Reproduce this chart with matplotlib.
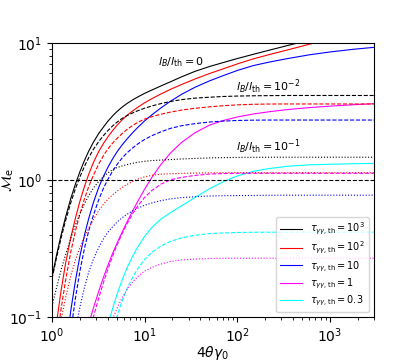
import numpy as np
import matplotlib
matplotlib.use('Agg')
import matplotlib.pyplot as plt

x = [1, 1.12, 1.25, 1.4, 1.6, 1.8, 2, 2.25, 2.5, 2.8, 3.2, 3.6, 4, 4.5, 5, 5.7, 6.5, 7.5, 8.5,
     10, 12, 15, 19, 25, 35, 50, 70, 100, 150, 220, 350, 600, 1000, 1800, 3000]

# l_B/l_th = 0 (solid)
k0 = [0.196, 0.283, 0.394, 0.535, 0.738, 0.944, 1.148, 1.396, 1.633, 1.889, 2.19, 2.44, 2.68, 2.93, 3.15,
      3.40, 3.63, 3.86, 4.05, 4.29, 4.54, 4.86, 5.21, 5.66, 6.21, 6.73, 7.19, 7.70, 8.28, 8.85, 9.59,
      10.5, 11.5, 12.7, 13.8]
r0 = [0.05, 0.091, 0.154, 0.245, 0.384, 0.535, 0.697, 0.904, 1.109, 1.34, 1.618, 1.851, 2.057, 2.289,
      2.495, 2.743, 2.975, 3.208, 3.408, 3.662, 3.926, 4.246, 4.586, 4.976, 5.46, 5.98, 6.47, 7.03,
      7.67, 8.22, 8.91, 9.79, 10.69, 11.8, 12.9]
b0 = [0.009, 0.016, 0.03, 0.057, 0.113, 0.1875, 0.278, 0.4, 0.528, 0.685, 0.886, 1.065, 1.232, 1.422,
      1.594, 1.799, 2.002, 2.231, 2.433, 2.701, 2.994, 3.359, 3.756, 4.215, 4.753, 5.285, 5.768, 6.3,
      6.85, 7.25, 7.7, 8.2, 8.6, 9.0, 9.3]
m0 = [0.009, 0.012, 0.016, 0.021, 0.029, 0.039, 0.051, 0.069, 0.0895, 0.1163, 0.1546, 0.1952, 0.2372,
      0.29, 0.342, 0.415, 0.4986, 0.603, 0.7054, 0.857, 1.046, 1.298, 1.574, 1.878, 2.213, 2.513, 2.714,
      2.883, 3.036, 3.149, 3.268, 3.378, 3.461, 3.544, 3.605]
c0 = [0.003, 0.004, 0.005, 0.007, 0.009, 0.011, 0.015, 0.02, 0.026, 0.035, 0.048, 0.065, 0.086, 0.1144,
      0.1441, 0.1856, 0.2307, 0.2813, 0.3268, 0.3875, 0.4513, 0.5187, 0.577, 0.6475, 0.7455, 0.862,
      0.9685, 1.07, 1.158, 1.212, 1.26, 1.29, 1.303, 1.315, 1.322]

# l_B/l_th = 1e-2 (dashed)
k2 = [0.19, 0.272, 0.374, 0.504, 0.687, 0.873, 1.053, 1.265, 1.463, 1.675, 1.912, 2.112, 2.288, 2.477,
      2.635, 2.812, 2.96, 3.098, 3.21, 3.343, 3.473, 3.613, 3.742, 3.861, 3.96, 4.02, 4.07, 4.10, 4.12,
      4.13, 4.14, 4.14, 4.14, 4.14, 4.14]
r2 = [0.036, 0.065, 0.113, 0.184, 0.302, 0.43, 0.563, 0.734, 0.902, 1.084, 1.31, 1.509, 1.681, 1.855,
      2.001, 2.177, 2.346, 2.513, 2.643, 2.785, 2.901, 3.02, 3.131, 3.239, 3.338, 3.42, 3.484, 3.535,
      3.571, 3.587, 3.59, 3.59, 3.59, 3.59, 3.59]
b2 = [0.007, 0.012, 0.022, 0.039, 0.08, 0.14, 0.2155, 0.321, 0.429, 0.554, 0.72, 0.873, 1.008, 1.157,
      1.289, 1.445, 1.585, 1.725, 1.84, 1.977, 2.108, 2.249, 2.381, 2.49, 2.58, 2.65, 2.69, 2.72, 2.735,
      2.74, 2.74, 2.74, 2.74, 2.74, 2.74]
m2 = [0.007, 0.009, 0.012, 0.016, 0.022, 0.03, 0.041, 0.056, 0.0746, 0.1, 0.1378, 0.1786, 0.2218,
      0.2763, 0.3311, 0.4046, 0.4832, 0.5725, 0.65, 0.7468, 0.8395, 0.9335, 1.004, 1.045, 1.08, 1.105,
      1.115, 1.12, 1.12, 1.12, 1.12, 1.12, 1.12, 1.12, 1.12]
c2 = [0.002, 0.003, 0.004, 0.005, 0.007, 0.009, 0.011, 0.015, 0.019, 0.025, 0.033, 0.043, 0.057, 0.0776,
      0.1, 0.1305, 0.163, 0.1975, 0.2271, 0.2633, 0.2966, 0.3297, 0.356, 0.378, 0.3948, 0.4062, 0.4108,
      0.414, 0.4156, 0.416, 0.416, 0.416, 0.416, 0.416, 0.416]

# l_B/l_th = 1e-1 (dotted)
k1 = [0.12, 0.164, 0.219, 0.285, 0.379, 0.474, 0.566, 0.674, 0.772, 0.873, 0.979, 1.06, 1.125, 1.187,
      1.232, 1.266, 1.297, 1.326, 1.347, 1.37, 1.386, 1.398, 1.41, 1.424, 1.437, 1.449, 1.457, 1.462,
      1.465, 1.466, 1.467, 1.467, 1.467, 1.467, 1.467]
r1 = [0.04, 0.063, 0.0945, 0.138, 0.201, 0.264, 0.321, 0.386, 0.448, 0.516, 0.598, 0.666, 0.723, 0.778,
      0.825, 0.88, 0.931, 0.98, 1.017, 1.055, 1.083, 1.103, 1.111, 1.118, 1.124, 1.128, 1.13, 1.13,
      1.13, 1.13, 1.13, 1.13, 1.13, 1.13, 1.13]
b1 = [0.006, 0.01, 0.016, 0.027, 0.048, 0.08, 0.118, 0.166, 0.214, 0.265, 0.3225, 0.3725, 0.4143, 0.455,
      0.49, 0.53, 0.564, 0.598, 0.6245, 0.6545, 0.681, 0.707, 0.728, 0.744, 0.755, 0.764, 0.768, 0.77,
      0.772, 0.774, 0.775, 0.775, 0.775, 0.775, 0.775]
m1 = [0.004, 0.005, 0.006, 0.008, 0.01, 0.013, 0.017, 0.022, 0.028, 0.036, 0.047, 0.06, 0.0768, 0.096,
      0.1144, 0.1375, 0.16, 0.1815, 0.1982, 0.2164, 0.2306, 0.2436, 0.2541, 0.2611, 0.2647, 0.2674,
      0.2686, 0.2687, 0.2687, 0.2687, 0.2687, 0.2687, 0.2687, 0.2687, 0.2687]

colors = ['k', 'r', 'b', 'magenta', 'cyan']
labels = [r'$\tau_{\gamma\gamma,\rm th}=10^3$', r'$\tau_{\gamma\gamma,\rm th}=10^2$',
          r'$\tau_{\gamma\gamma,\rm th}=10$', r'$\tau_{\gamma\gamma,\rm th}=1$',
          r'$\tau_{\gamma\gamma,\rm th}=0.3$']
solid = [k0, r0, b0, m0, c0]
dashed = [k2, r2, b2, m2, c2]
dotted = [k1, r1, b1, m1]

fig = plt.figure(figsize=(4.15, 3.63), dpi=100)
ax = fig.add_axes([0.1253, 0.1267, 0.7759, 0.7548])

lw = 0.8
for ys, c, lab in zip(solid, colors, labels):
    ax.plot(x, ys, color=c, ls='-', lw=lw, label=lab)
for ys, c in zip(dashed, colors):
    ax.plot(x, ys, color=c, ls='--', lw=lw)
for ys, c in zip(dotted, colors):
    ax.plot(x, ys, color=c, ls=':', lw=lw)

ax.axhline(1, color='k', ls='--', lw=lw)

ax.set_xscale('log')
ax.set_yscale('log')
ax.set_xlim(1, 3000)
ax.set_ylim(0.1, 10)
ax.set_xlabel(r'$4\theta\gamma_0$', labelpad=-1)
ax.set_ylabel(r'$\mathcal{M}_{\rm e}$')
ax.yaxis.set_label_coords(-0.112, 0.5)

ax.text(13.8, 7.3, r'$l_B/l_{\rm th}=0$', fontsize=8, va='center')
ax.text(97, 4.77, r'$l_B/l_{\rm th}=10^{-2}$', fontsize=8, va='center')
ax.text(97, 1.74, r'$l_B/l_{\rm th}=10^{-1}$', fontsize=8, va='center')

ax.legend(loc='lower right', fontsize=7, labelspacing=0.3, handlelength=2.3)

fig.savefig('out.png', dpi=100)
